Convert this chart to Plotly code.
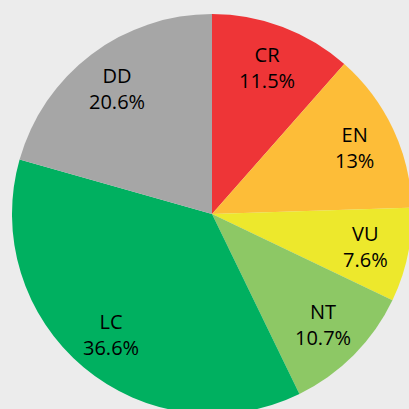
import math
import plotly.graph_objects as go

labels = ["CR", "EN", "VU", "NT", "LC", "DD"]
values = [11.5, 13, 7.6, 10.7, 36.6, 20.6]
colors = ["#EE3537", "#FDBD38", "#EDE82C", "#8DC865", "#00B060", "#A6A6A6"]

W, H = 424, 428
ML, MR, MT, MB = 11, 11, 14, 14
plot_w, plot_h = W - ML - MR, H - MT - MB
R = min(plot_w, plot_h) / 2
label_frac = 0.785

fig = go.Figure(go.Pie(
    labels=labels,
    values=values,
    textinfo="none",
    sort=False,
    direction="clockwise",
    rotation=0,
    marker=dict(colors=colors, line=dict(width=0)),
    showlegend=False,
    hoverinfo="label+percent",
))

# data labels placed along each slice's mid-angle (derived from the values)
total = sum(values)
cum = 0.0
annotations = []
for lab, v in zip(labels, values):
    mid = (cum + v / 2) / total * 2 * math.pi
    cum += v
    dx = label_frac * R * math.sin(mid)
    dy = label_frac * R * math.cos(mid)
    annotations.append(dict(
        x=0.5 + dx / plot_w, y=0.5 + dy / plot_h,
        xref="paper", yref="paper",
        text=f"{lab}<br>{v:g}%", showarrow=False,
        font=dict(family="Open Sans", size=20, color="black"),
        xanchor="center", yanchor="middle", align="center",
    ))

fig.update_layout(
    width=W, height=H,
    margin=dict(l=ML, r=MR, t=MT, b=MB),
    paper_bgcolor="#ECECEC",
    plot_bgcolor="#ECECEC",
    annotations=annotations,
)

fig.write_html(
    "out.html",
    config={"displayModeBar": False},
    post_script="document.body.style.margin='0';document.body.style.overflow='hidden';",
)
